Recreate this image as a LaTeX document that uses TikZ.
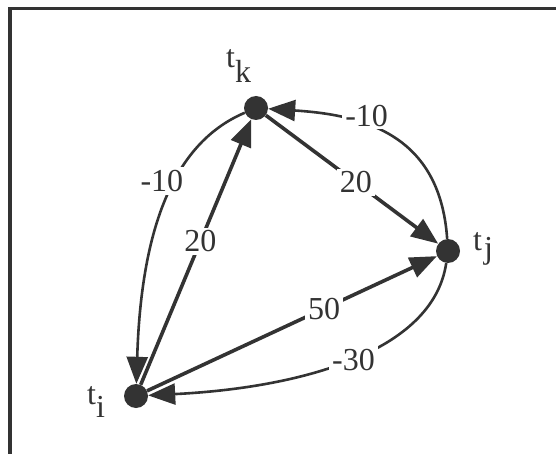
\documentclass[tikz,border=0pt]{standalone}
\usepackage{fontspec}
\setmainfont{Liberation Serif}
\usetikzlibrary{arrows.meta}
\definecolor{ink}{HTML}{333333}
\begin{document}
\begin{tikzpicture}[x=1pt,y=-1pt,
  dot/.style={circle,fill=ink,draw=none,minimum size=24pt,inner sep=0pt},
  vname/.style={anchor=base west,inner sep=0pt,text=ink,font=\fontsize{32}{38}\selectfont},
  wlabel/.style={fill=white,inner sep=3pt,text=ink,font=\fontsize{32}{38}\selectfont},
  straightedge/.style={draw=ink,line width=3.6pt,-{Triangle[length=27pt,width=21pt]}},
  curvededge/.style={draw=ink,line width=2.6pt,-{Triangle[length=27pt,width=21pt]}},
  frameline/.style={draw=ink,line width=3.6pt}]
\useasboundingbox (0,0) rectangle (556,454);
\fill[white] (0,0) rectangle (556,454);
\draw[frameline] (10,454) -- (10,8.7);
\draw[frameline] (8.2,8.7) -- (556,8.7);
\node[dot] (tk) at (256,108) {};
\node[dot] (tj) at (448,251) {};
\node[dot] (ti) at (136,396) {};
\node[vname] (lk) at (226,68) {t\raisebox{-15pt}{k}};
\node[vname] (lj) at (473,250) {t\hspace{2pt}\raisebox{-9pt}{j}};
\node[vname] (li) at (87,404) {t\raisebox{-13pt}{i}};
\draw[straightedge] (ti) -- node[wlabel,pos=0.54] (w1) {20} (tk);
\draw[straightedge] (tk) -- node[wlabel,pos=0.523] (w2) {20} (tj);
\draw[straightedge] (ti) -- node[wlabel,pos=0.611] (w3) {50} (tj);
\draw[curvededge] (tk) .. controls (171,144) and (141,234) .. node[wlabel,pos=0.41,xshift=-13pt] (w4) {-10} (ti);
\draw[curvededge] (tj) .. controls (440,135) and (365,115) .. node[wlabel,pos=0.62,yshift=10pt] (w5) {-10} (tk);
\draw[curvededge] (tj) .. controls (433,353) and (298,388) .. node[wlabel,pos=0.5,xshift=5pt] (w6) {-30} (ti);
\end{tikzpicture}
\end{document}
